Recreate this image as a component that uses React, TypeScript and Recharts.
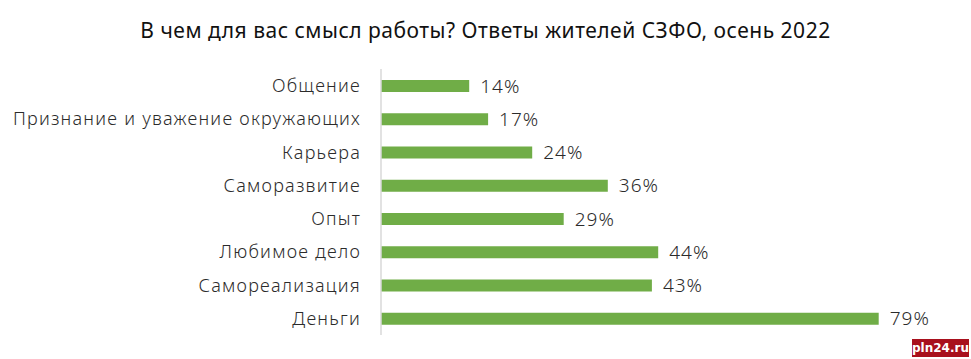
import { Bar, BarChart, LabelList, XAxis, YAxis } from 'recharts';

const categories = [
  'Общение',
  'Признание и уважение окружающих',
  'Карьера',
  'Саморазвитие',
  'Опыт',
  'Любимое дело',
  'Самореализация',
  'Деньги',
];
const shares = [14, 17, 24, 36, 29, 44, 43, 79];

const title = 'В чем для вас смысл работы? Ответы жителей СЗФО, осень 2022';

const data = categories.map((name, i) => ({ name, value: shares[i] }));

export default function App() {
  return (
    <div style={{ position: 'absolute', left: 0, top: 0, width: 971, height: 359, background: '#fff', fontFamily: '"Noto Sans", sans-serif' }}>
      <div
        style={{
          position: 'absolute',
          top: 16,
          left: 0,
          width: 971,
          textAlign: 'center',
          fontSize: 21,
          letterSpacing: 0.5,
          color: '#111',
        }}
      >
        {title}
      </div>
      <BarChart
        width={971}
        height={359}
        data={data}
        layout="vertical"
        margin={{ top: 69, right: 23, left: 0, bottom: 24 }}
      >
        <XAxis type="number" domain={[0, 90]} hide />
        <YAxis
          type="category"
          dataKey="name"
          width={381}
          tickLine={false}
          tickMargin={14}
          axisLine={{ stroke: '#d9d9d9', strokeWidth: 1.5 }}
          tick={{ fill: '#2b2b2b', fontSize: 18, fontWeight: 300, letterSpacing: 1.25 }}
        />
        <Bar dataKey="value" fill="#70ad47" barSize={12} isAnimationActive={false}>
          <LabelList
            dataKey="value"
            position="right"
            offset={11}
            formatter={(v: any) => `${v}%`}
            style={{ fill: '#2b2b2b', fontSize: 19, fontWeight: 300, letterSpacing: 1 }}
          />
        </Bar>
      </BarChart>
      <div
        style={{
          position: 'absolute',
          left: 912,
          top: 339,
          width: 57,
          height: 18,
          background: '#a8101d',
          color: '#fff',
          fontSize: 12,
          fontWeight: 700,
          lineHeight: '18px',
          textAlign: 'center',
          fontFamily: '"DejaVu Sans", sans-serif',
        }}
      >
        pln24.ru
      </div>
    </div>
  );
}
